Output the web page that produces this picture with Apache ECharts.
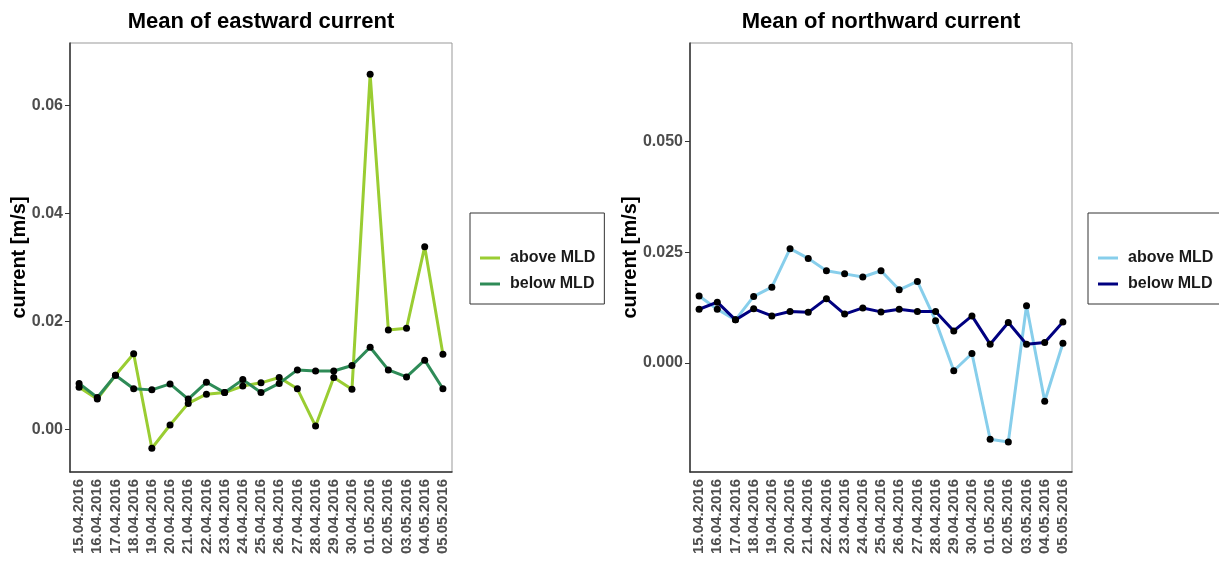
<!DOCTYPE html>
<html>
<head>
<meta charset="utf-8">
<title>Mean currents</title>
<script src="https://cdn.jsdelivr.net/npm/echarts@6/dist/echarts.min.js"></script>
<style>
  html, body { margin: 0; padding: 0; background: #fff; }
  #chart { width: 1219px; height: 563px; }
</style>
</head>
<body>
<div id="chart"></div>
<script>
const dates = ['15.04.2016', '16.04.2016', '17.04.2016', '18.04.2016', '19.04.2016', '20.04.2016', '21.04.2016',
  '22.04.2016', '23.04.2016', '24.04.2016', '25.04.2016', '26.04.2016', '27.04.2016', '28.04.2016',
  '29.04.2016', '30.04.2016', '01.05.2016', '02.05.2016', '03.05.2016', '04.05.2016', '05.05.2016']

// eastward current [m/s]
const eastAbove = [0.0078, 0.0056, 0.0100, 0.0140, -0.0035, 0.0008, 0.0048, 0.0065, 0.0068, 0.0080, 0.0086,
  0.0096, 0.0075, 0.0006, 0.0096, 0.0074, 0.0657, 0.0184, 0.0187, 0.0338, 0.0139]
const eastBelow = [0.0085, 0.0059, 0.0100, 0.0075, 0.0073, 0.0084, 0.0056, 0.0087, 0.0068, 0.0092, 0.0068,
  0.0085, 0.0110, 0.0108, 0.0108, 0.0118, 0.0152, 0.0110, 0.0097, 0.0128, 0.0075]

// northward current [m/s]
const northAbove = [0.0151, 0.0121, 0.0097, 0.0150, 0.0171, 0.0258, 0.0236, 0.0208, 0.0201, 0.0194, 0.0208,
  0.0165, 0.0184, 0.0095, -0.0018, 0.0021, -0.0173, -0.0179, 0.0129, -0.0087, 0.0044]
const northBelow = [0.0121, 0.0137, 0.0097, 0.0122, 0.0106, 0.0116, 0.0114, 0.0145, 0.0110, 0.0124, 0.0115,
  0.0121, 0.0116, 0.0116, 0.0072, 0.0106, 0.0042, 0.0091, 0.0042, 0.0046, 0.0092]

const eastTicks = [0, 0.02, 0.04, 0.06]
const northTicks = [0, 0.025, 0.05]

const legendLabels = {
  eAbove: 'above MLD',
  eBelow: 'below MLD',
  nAbove: 'above MLD',
  nBelow: 'below MLD'
}

const font = 'Liberation Sans, Arial, sans-serif'
const tickGrey = '#4d4d4d'
const axisDark = '#333'

function xAxis(gridIndex) {
  return {
    type: 'category',
    gridIndex: gridIndex,
    data: dates,
    boundaryGap: true,
    axisLine: { onZero: false, lineStyle: { color: axisDark, width: 1.5 } },
    axisTick: { alignWithLabel: true, length: 5, lineStyle: { color: axisDark } },
    axisLabel: {
      interval: 0,
      rotate: 90,
      margin: 7,
      color: tickGrey,
      fontSize: 15,
      fontWeight: 'bold',
      fontFamily: font
    },
    splitLine: { show: false }
  }
}

function yAxis(gridIndex, min, max, ticks, digits, nameGap) {
  return {
    type: 'value',
    gridIndex: gridIndex,
    min: min,
    max: max,
    name: 'current [m/s]',
    nameLocation: 'middle',
    nameGap: nameGap,
    nameMoveOverlap: false,
    nameTextStyle: { color: '#000', fontSize: 20, fontWeight: 'bold', fontFamily: font },
    axisLine: { show: true, lineStyle: { color: axisDark, width: 1.5 } },
    axisTick: { show: true, length: 5, customValues: ticks, lineStyle: { color: axisDark } },
    axisLabel: {
      customValues: ticks,
      margin: 7,
      color: tickGrey,
      fontSize: 16,
      fontWeight: 'bold',
      fontFamily: font,
      formatter: v => v.toFixed(digits)
    },
    splitLine: { show: false }
  }
}

function lineSeries(name, data, color, idx) {
  return {
    name: name,
    type: 'line',
    xAxisIndex: idx,
    yAxisIndex: idx,
    data: data,
    color: color,
    symbol: 'none',
    lineStyle: { width: 3, color: color },
    z: 2
  }
}

function dotSeries(data, idx) {
  return {
    type: 'scatter',
    xAxisIndex: idx,
    yAxisIndex: idx,
    data: data,
    symbolSize: 7,
    itemStyle: { color: '#000', opacity: 1 },
    z: 5
  }
}

function legend(left, names) {
  return {
    data: names,
    orient: 'vertical',
    left: left,
    top: 213,
    padding: [37, 9, 12, 10],
    itemGap: 10,
    itemWidth: 20,
    itemHeight: 14,
    icon: 'path://M0,0L20,0L20,3L0,3Z',
    borderColor: axisDark,
    borderWidth: 1,
    selectedMode: false,
    formatter: name => legendLabels[name],
    textStyle: { color: '#1a1a1a', fontSize: 16, fontWeight: 'bold', fontFamily: font, padding: [0, 0, 0, 5] }
  }
}

const titleStyle = { color: '#000', fontSize: 22, fontWeight: 'bold', fontFamily: font }

const option = {
  backgroundColor: '#fff',
  animation: false,
  title: [
    { text: 'Mean of eastward current', left: 261, top: 11, textAlign: 'center', padding: 0, textStyle: titleStyle },
    { text: 'Mean of northward current', left: 881, top: 11, textAlign: 'center', padding: 0, textStyle: titleStyle }
  ],
  legend: [
    legend(470, ['eAbove', 'eBelow']),
    legend(1088, ['nAbove', 'nBelow'])
  ],
  grid: [
    { left: 70, top: 43, width: 382, height: 429, show: true, borderColor: '#999', borderWidth: 1 },
    { left: 690, top: 43, width: 382, height: 429, show: true, borderColor: '#999', borderWidth: 1 }
  ],
  xAxis: [xAxis(0), xAxis(1)],
  yAxis: [
    yAxis(0, -0.0079, 0.0715, eastTicks, 2, 41),
    yAxis(1, -0.0247, 0.0723, northTicks, 3, 50)
  ],
  series: [
    lineSeries('eAbove', eastAbove, '#9acd32', 0),
    lineSeries('eBelow', eastBelow, '#2e8b57', 0),
    dotSeries(eastAbove, 0),
    dotSeries(eastBelow, 0),
    lineSeries('nAbove', northAbove, '#87ceeb', 1),
    lineSeries('nBelow', northBelow, '#000080', 1),
    dotSeries(northAbove, 1),
    dotSeries(northBelow, 1)
  ]
}

const chart = echarts.init(document.getElementById('chart'))
chart.setOption(option)
window.addEventListener('resize', () => chart.resize())
</script>
</body>
</html>
